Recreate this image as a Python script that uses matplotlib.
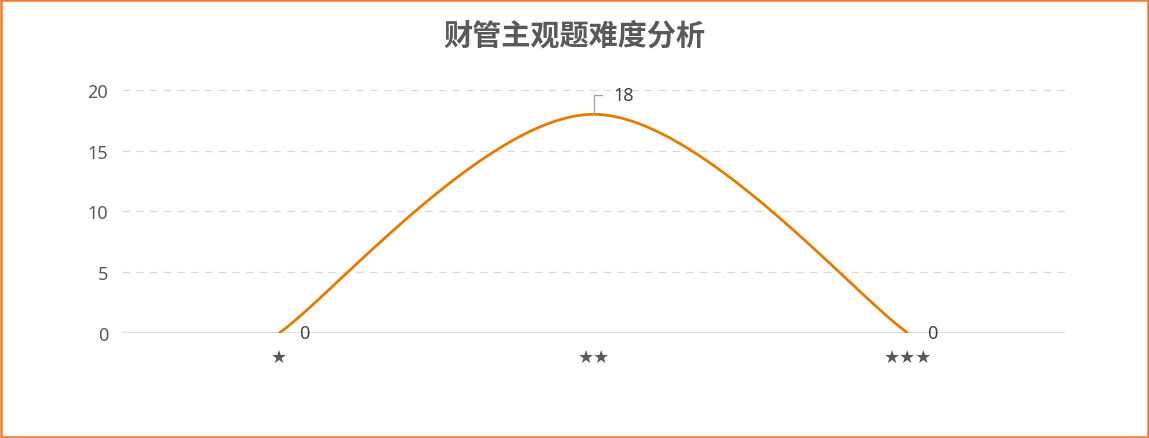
import numpy as np
import matplotlib.pyplot as plt
from matplotlib.patches import Rectangle

plt.rcParams['font.family'] = ['Noto Sans CJK SC', 'DejaVu Sans']

categories = ['★', '★★', '★★★']
values = [0, 18, 0]
title = '财管主观题难度分析'


def smooth(xs, ys, n=60):
    # excel-like bezier smoothing through the points
    P = np.column_stack([xs, ys]).astype(float)
    pts = []
    for i in range(len(P) - 1):
        p0 = P[i - 1] if i > 0 else P[i]
        p1, p2 = P[i], P[i + 1]
        p3 = P[i + 2] if i + 2 < len(P) else P[i + 1]
        c1 = p1 + (p2 - p0) / 6
        c2 = p2 - (p3 - p1) / 6
        t = np.linspace(0, 1, n)[:, None]
        seg = ((1 - t) ** 3 * p1 + 3 * (1 - t) ** 2 * t * c1
               + 3 * (1 - t) * t ** 2 * c2 + t ** 3 * p2)
        pts.append(seg)
    pts = np.vstack(pts)
    return pts[:, 0], pts[:, 1]


fig = plt.figure(figsize=(11.49, 4.39), dpi=100)
fig.patches.append(Rectangle((0.001, 0.002), 0.998, 0.996, transform=fig.transFigure,
                             fill=False, edgecolor='#ED7D31', linewidth=1.8))
ax = fig.add_axes([0.1062, 0.2392, 0.8207, 0.5535])

x = np.arange(len(categories))
sx, sy = smooth(x, values)
ax.plot(sx, sy, color='#E27C00', linewidth=2, solid_capstyle='butt', zorder=3)

ax.set_xlim(-0.5, 2.5)
ax.set_ylim(0, 20)
ax.set_yticks([0, 5, 10, 15, 20])
ax.set_xticks(x)
ax.set_xticklabels(categories, fontsize=13, color='#595959', family=['DejaVu Sans'])
ax.tick_params(axis='x', length=0, pad=11)
ax.tick_params(axis='y', length=0, pad=10)
for lab in ax.get_yticklabels():
    lab.set_family(['Noto Sans'])
    lab.set_fontsize(13)
    lab.set_color('#595959')

for s in ax.spines.values():
    s.set_visible(False)
for yv in [5, 10, 15, 20]:
    ax.axhline(yv, color='#D9D9D9', linewidth=0.9, linestyle=(0, (6, 5)), zorder=1)
ax.axhline(0, color='#D9D9D9', linewidth=1.3, zorder=2)

# data labels
for xi, v in zip(x, values):
    if v == 0:
        ax.annotate(str(v), (xi, v), xytext=(14, 0), textcoords='offset points',
                    ha='left', va='center', fontsize=13, color='#404040',
                    family=['Noto Sans'])
    else:
        ax.annotate(str(v), (xi, v), xytext=(14, 14), textcoords='offset points',
                    ha='left', va='center', fontsize=13, color='#404040',
                    family=['Noto Sans'],
                    arrowprops=dict(arrowstyle='-', color='#A6A6A6', lw=1,
                                    connectionstyle='angle,angleA=0,angleB=90,rad=0',
                                    shrinkA=6, shrinkB=0))

fig.text(0.5, 0.916, title, ha='center', va='center', fontsize=21,
         fontweight='bold', color='#595959')

fig.savefig('out.png', dpi=100, facecolor='white')
